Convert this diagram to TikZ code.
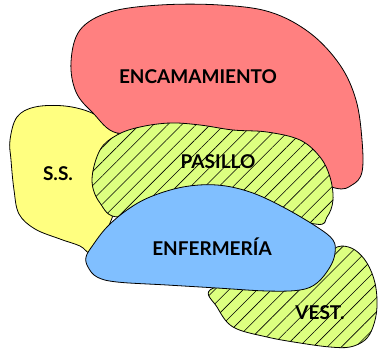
\documentclass[tikz,border=0pt]{standalone}
\usepackage{fontspec}
\setmainfont{Lato}
\usetikzlibrary{patterns.meta}
\definecolor{zonered}{RGB}{255,128,128}
\definecolor{zoneyellow}{RGB}{255,255,128}
\definecolor{zonegreen}{RGB}{221,255,128}
\definecolor{zoneblue}{RGB}{128,191,255}
\begin{document}
\begin{tikzpicture}[x=1pt,y=-1pt,
  zone/.style={draw=black,line width=0.8pt},
  hatched/.style={zone,preaction={fill=zonegreen},pattern={Lines[angle=45,distance=10pt,line width=0.6pt]}},
  zlabel/.style={font=\fontsize{19}{21}\selectfont\bfseries,inner sep=0pt}]
\useasboundingbox (0,0) rectangle (378,349);
% zones
\draw[zone,fill=zoneyellow] plot[smooth cycle,tension=0.6] coordinates {(10,140) (17,117) (35,107) (65,106) (92,113) (112,127) (125,150) (118,200) (100,245) (90,253) (80,246) (60,239) (35,229) (19,214) (14,190) (11,160)};
\draw[zone,fill=zonered] plot[smooth cycle,tension=0.6] coordinates {(71,62) (80,30) (110,12) (160,5) (220,5) (270,12) (310,33) (340,65) (356,100) (362,140) (362,172) (352,185) (335,188) (290,170) (230,140) (160,128) (117,133) (93,113) (76,92)};
\draw[hatched] plot[smooth cycle,tension=0.6] coordinates {(92,180) (100,150) (117,135) (140,127) (170,123) (200,125) (233,130) (267,132) (300,140) (320,157) (330,177) (333,200) (327,217) (315,224) (250,205) (180,200) (120,217) (100,203)};
\draw[hatched] plot[smooth cycle,tension=0.6] coordinates {(333,250) (342,246) (355,250) (367,263) (375,283) (377,307) (373,327) (365,340) (350,347) (330,347) (300,343) (267,337) (233,327) (217,307) (210,290) (250,280) (320,265)};
\draw[zone,fill=zoneblue] plot[smooth cycle,tension=0.6] coordinates {(86,257) (93,245) (107,227) (127,210) (150,197) (183,187) (217,185) (250,192) (283,207) (317,227) (333,240) (335,253) (330,267) (317,283) (300,290) (267,291) (217,288) (167,285) (117,282) (97,277) (88,267)};
% labels
\node[zlabel] (encamamiento) at (198,77) {ENCAMAMIENTO};
\node[zlabel] (pasillo) at (218,162) {PASILLO};
\node[zlabel] (ss) at (58,174) {S.S.};
\node[zlabel] (enfermeria) at (212,247) {ENFERMERÍA};
\node[zlabel] (vest) at (320,313) {VEST.};
\end{tikzpicture}
\end{document}
